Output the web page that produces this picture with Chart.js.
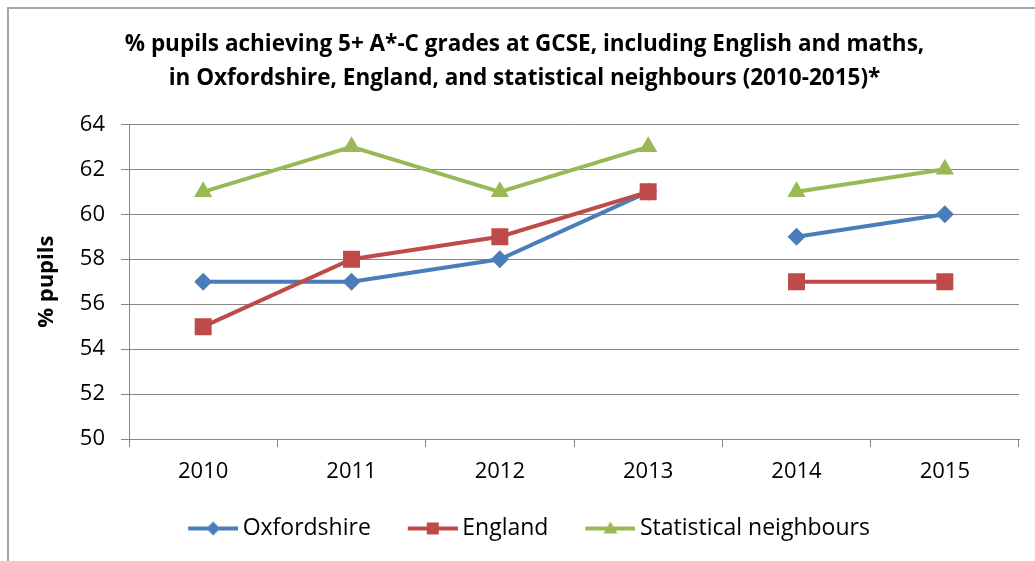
<!DOCTYPE html>
<html>
<head>
<meta charset="utf-8">
<script src="https://cdn.jsdelivr.net/npm/chart.js@4.4.0/dist/chart.umd.min.js"></script>
<style>
  html, body { margin: 0; padding: 0; background: #fff; }
</style>
</head>
<body>
<canvas id="chart" width="1035" height="561"></canvas>
<script>
// data
const years = ['2010', '2011', '2012', '2013', '2014', '2015'];
const oxfordshire = [57, 57, 58, 61, 59, 60];
const england = [55, 58, 59, 61, 57, 57];
const statNeighbours = [61, 63, 61, 63, 61, 62];
const seriesNames = ['Oxfordshire', 'England', 'Statistical neighbours'];
const yMin = 50, yMax = 64, yStep = 2;
// series lines are not joined between these two years
const gapAfter = '2013';

const FONT = '"Open Sans", Lato, sans-serif';
const BLUE = '#4a7ebb', RED = '#be4b48', GREEN = '#98b954';
const GRID = '#868686';

// legend icon: line with a small marker, left part left blank for spacing
function legendIcon(color, shape) {
  const c = document.createElement('canvas');
  c.width = 66; c.height = 20;
  const g = c.getContext('2d');
  g.strokeStyle = color; g.fillStyle = color; g.lineWidth = 4;
  g.beginPath(); g.moveTo(16, 10); g.lineTo(66, 10); g.stroke();
  g.beginPath();
  if (shape === 'diamond') {
    g.moveTo(41, 3); g.lineTo(48, 10); g.lineTo(41, 17); g.lineTo(34, 10);
  } else if (shape === 'square') {
    g.rect(35, 4, 12, 12);
  } else {
    g.moveTo(41, 3); g.lineTo(48, 15); g.lineTo(34, 15);
  }
  g.closePath(); g.fill();
  return c;
}

const gapIndex = years.indexOf(gapAfter);
const breakSeg = ctx => ctx.p0DataIndex === gapIndex ? 'rgba(0,0,0,0)' : undefined;

function series(label, data, color, style, radius, order) {
  return {
    label, data, order,
    borderColor: color, backgroundColor: color,
    borderWidth: 4,
    pointStyle: style, pointRadius: radius, pointHoverRadius: radius,
    pointBorderWidth: 0,
    tension: 0,
    segment: { borderColor: breakSeg },
    legendIcon: legendIcon(color, style === 'rectRot' ? 'diamond' : style === 'rect' ? 'square' : 'triangle')
  };
}

const frame = {
  id: 'frame',
  beforeDraw(chart) {
    const c = chart.ctx;
    c.save();
    c.fillStyle = '#fff';
    c.fillRect(0, 0, chart.width, chart.height);
    c.strokeStyle = '#a6a6a6';
    c.lineWidth = 2;
    c.strokeRect(8, 8, chart.width + 20, chart.height + 20);
    c.restore();
  }
};

new Chart(document.getElementById('chart'), {
  type: 'line',
  data: {
    labels: years,
    datasets: [
      series(seriesNames[0], oxfordshire, BLUE, 'rectRot', 9, 2),
      series(seriesNames[1], england, RED, 'rect', 12, 1),
      series(seriesNames[2], statNeighbours, GREEN, 'triangle', 10.5, 0)
    ]
  },
  options: {
    responsive: false,
    animation: false,
    layout: { padding: { left: 30, right: 16, top: 0, bottom: 11 } },
    plugins: {
      tooltip: { enabled: false },
      title: {
        display: true,
        text: ['% pupils achieving 5+ A*-C grades at GCSE, including English and maths,',
               'in Oxfordshire, England, and statistical neighbours (2010-2015)*'],
        color: '#000',
        font: { family: FONT, size: 22.5, weight: 'bold', lineHeight: 1.52 },
        padding: { top: 27, bottom: 29 }
      },
      legend: {
        position: 'bottom',
        labels: {
          color: '#000',
          font: { family: FONT, size: 23 },
          usePointStyle: true,
          pointStyleWidth: 52,
          boxHeight: 20,
          padding: 28,
          generateLabels(chart) {
            return chart.data.datasets.map((ds, i) => ({
              text: ds.label,
              pointStyle: ds.legendIcon,
              fillStyle: ds.borderColor,
              strokeStyle: ds.borderColor,
              lineWidth: 0,
              fontColor: '#000',
              datasetIndex: i,
              hidden: false
            }));
          }
        }
      }
    },
    scales: {
      x: {
        offset: true,
        grid: { offset: true, drawOnChartArea: false, drawTicks: true, tickLength: 8, color: GRID },
        border: { color: GRID },
        ticks: { color: '#000', font: { family: FONT, size: 22 }, padding: 12 },
        afterFit(scale) { scale.height = 50; }
      },
      y: {
        min: yMin, max: yMax,
        ticks: { stepSize: yStep, color: '#000', font: { family: FONT, size: 22 }, padding: 16 },
        grid: { color: GRID, tickLength: 8 },
        border: { color: GRID },
        title: {
          display: true, text: '% pupils', color: '#000',
          font: { family: FONT, size: 22, weight: 'bold' },
          padding: { top: 4, bottom: 0 }
        },
        afterFit(scale) { scale.width = 99; }
      }
    }
  },
  plugins: [frame]
});
</script>
</body>
</html>
